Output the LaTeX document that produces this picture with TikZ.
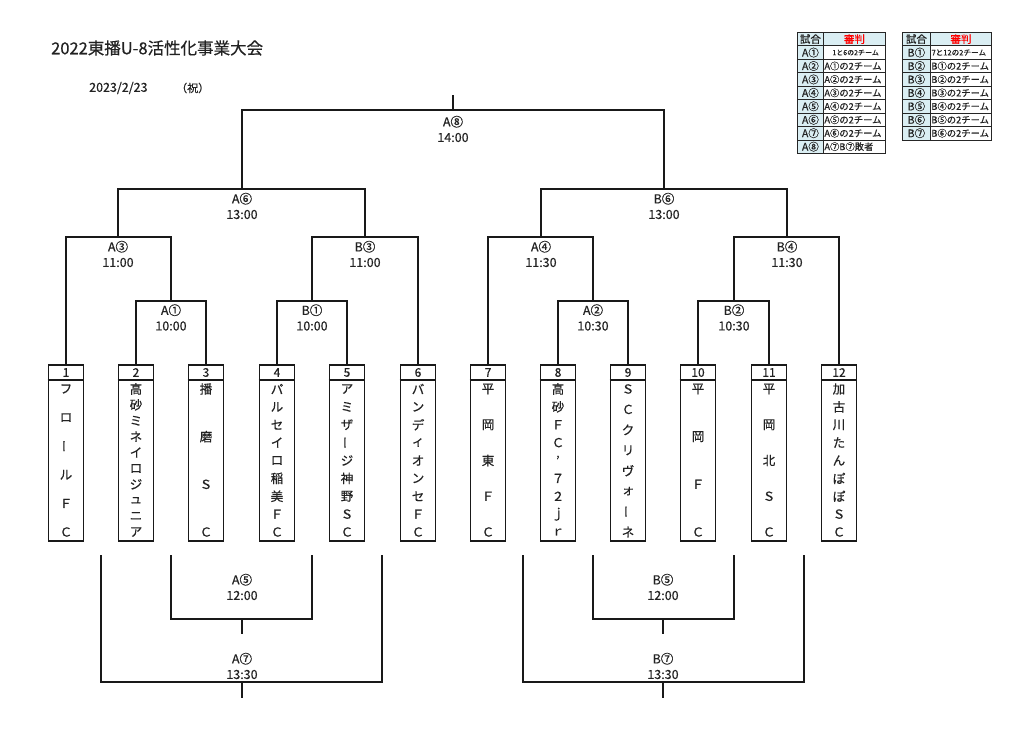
\documentclass[tikz,border=0pt]{standalone}
\usepackage{fontspec}
\setmainfont{Noto Sans CJK JP}[FakeBold=0.5]
\usetikzlibrary{calc}
\definecolor{hdr}{HTML}{DAEEF3}
\definecolor{ink}{HTML}{222222}
\newcommand\teamcol[4]{%
  \node[tbox] (t#1) at (#2,364) {};
  \draw[boxline] ([yshift=-16pt]t#1.north west) -- ([yshift=-16pt]t#1.north east);
  \node[num] (n#1) at (#2,372.5) {#1};
  \foreach \c [count=\k] in {#4} {
    \node[ch] (c#1-\k) at (#2,{389+(\k-1)*143/(#3-1)}) {\c};
  }%
}
\newcommand\vbar{\rotatebox[origin=c]{90}{ー}}
\begin{document}
\begin{tikzpicture}[x=1pt,y=-1pt,
  br/.style={line width=1.6pt,draw=black!90},
  boxline/.style={line width=1.6pt,draw=black!90},
  tbox/.style={draw=black!90,line width=1.6pt,minimum width=35pt,minimum height=176pt,inner sep=0pt,anchor=north},
  ch/.style={font=\fontsize{12.5}{13}\selectfont,inner sep=0pt,text=ink},
  num/.style={font=\fontsize{12}{12}\selectfont,inner sep=0pt,text=ink},
  lbl/.style={font=\fontsize{12.5}{15.5}\selectfont,align=center,inner sep=0pt,text=ink},
  tcl/.style={draw=black!85,line width=0.8pt,fill=hdr,anchor=north west,minimum width=26pt,minimum height=13.44pt,inner sep=0pt,font=\fontsize{10.5}{11}\selectfont,text=ink},
  tcr/.style={draw=black!85,line width=0.8pt,fill=white,anchor=north west,minimum height=13.44pt,inner xsep=1pt,inner ysep=0pt,align=left,font=\fontsize{9.3}{10}\selectfont,text=ink},
]
\useasboundingbox (0,0) rectangle (1024,735);
\fill[white] (0,0) rectangle (1024,735);

% title
\node[anchor=west,inner sep=0pt,font=\fontsize{16.5}{17}\selectfont,text=ink] (title) at (51,48) {2022東播U-8活性化事業大会};
\node[anchor=west,inner sep=0pt,font=\fontsize{12.5}{13}\selectfont,text=ink] (date) at (89,88) {2023/2/23};
\node[anchor=west,inner sep=0pt,font=\fontsize{11}{12}\selectfont,text=ink] (hol) at (176,88) {（祝）};

% teams
\teamcol{1}{66}{6}{フ,ロ,\vbar,ル,Ｆ,Ｃ}
\teamcol{2}{136}{10}{高,砂,ミ,ネ,イ,ロ,ジ,ュ,ニ,ア}
\teamcol{3}{206}{4}{播,磨,Ｓ,Ｃ}
\teamcol{4}{277}{9}{パ,ル,セ,イ,ロ,稲,美,Ｆ,Ｃ}
\teamcol{5}{347}{9}{ア,ミ,ザ,\vbar,ジ,神,野,Ｓ,Ｃ}
\teamcol{6}{418}{9}{バ,ン,デ,ィ,オ,ン,セ,Ｆ,Ｃ}
\teamcol{7}{488}{5}{平,岡,東,Ｆ,Ｃ}
\teamcol{8}{558}{9}{高,砂,Ｆ,Ｃ,’,７,２,ｊ,ｒ}
\teamcol{9}{628}{8}{Ｓ,Ｃ,ク,リ,ヴ,ォ,\vbar,ネ}
\teamcol{10}{698}{4}{平,岡,Ｆ,Ｃ}
\teamcol{11}{769}{5}{平,岡,北,Ｓ,Ｃ}
\teamcol{12}{839}{9}{加,古,川,た,ん,ぽ,ぽ,Ｓ,Ｃ}

% junction coordinates
\coordinate (a1) at (171,301);
\coordinate (b1) at (312,301);
\coordinate (a2) at (593,301);
\coordinate (b2) at (734,301);
\coordinate (a3) at (118,237);
\coordinate (b3) at (365,237);
\coordinate (a4) at (541,237);
\coordinate (b4) at (787,237);
\coordinate (a6) at (242,189);
\coordinate (b6) at (664,189);
\coordinate (a8) at (453,110);
\coordinate (a8t) at (453,95);

% top brackets
\draw[br] (t2.north) |- (a1) -| (t3.north);
\draw[br] (t4.north) |- (b1) -| (t5.north);
\draw[br] (t8.north) |- (a2) -| (t9.north);
\draw[br] (t10.north) |- (b2) -| (t11.north);
\draw[br] (t1.north) |- (a3) -| (a1);
\draw[br] (b1) |- (b3) -| (t6.north);
\draw[br] (t7.north) |- (a4) -| (a2);
\draw[br] (b2) |- (b4) -| (t12.north);
\draw[br] (a3) |- (a6) -| (b3);
\draw[br] (a4) |- (b6) -| (b4);
\draw[br] (a6) |- (a8) -| (b6);
\draw[br] (a8) -- (a8t);

% top labels
\node[lbl] (la1) at (171,317.5) {A①\\10:00};
\node[lbl] (lb1) at (312,317.5) {B①\\10:00};
\node[lbl] (la2) at (593,317.5) {A②\\10:30};
\node[lbl] (lb2) at (734,317.5) {B②\\10:30};
\node[lbl] (la3) at (118,254) {A③\\11:00};
\node[lbl] (lb3) at (365,254) {B③\\11:00};
\node[lbl] (la4) at (541,254) {A④\\11:30};
\node[lbl] (lb4) at (787,254) {B④\\11:30};
\node[lbl] (la6) at (242,206) {A⑥\\13:00};
\node[lbl] (lb6) at (664,206) {B⑥\\13:00};
\node[lbl] (la8) at (453,129) {A⑧\\14:00};

% bottom brackets
\coordinate (a5l) at (171,555); \coordinate (a5r) at (312,555);
\coordinate (a5) at (242,619); \coordinate (a5d) at (242,634);
\coordinate (a7l) at (101,555); \coordinate (a7r) at (382,555);
\coordinate (a7) at (242,682); \coordinate (a7d) at (242,698);
\coordinate (b5l) at (593,555); \coordinate (b5r) at (734,555);
\coordinate (b5) at (663,619); \coordinate (b5d) at (663,634);
\coordinate (b7l) at (523,555); \coordinate (b7r) at (804,555);
\coordinate (b7) at (663,682); \coordinate (b7d) at (663,698);
\draw[br] (a5l) |- (a5) -| (a5r);
\draw[br] (a5) -- (a5d);
\draw[br] (a7l) |- (a7) -| (a7r);
\draw[br] (a7) -- (a7d);
\draw[br] (b5l) |- (b5) -| (b5r);
\draw[br] (b5) -- (b5d);
\draw[br] (b7l) |- (b7) -| (b7r);
\draw[br] (b7) -- (b7d);
\node[lbl] (la5) at (242,587) {A⑤\\12:00};
\node[lbl] (la7) at (242,666) {A⑦\\13:30};
\node[lbl] (lb5) at (663,587) {B⑤\\12:00};
\node[lbl] (lb7) at (663,666) {B⑦\\13:30};

% table A
\node[tcl] (tAl0) at (797,32) {試合};
\node[tcl,minimum width=62pt,text=red] (tAr0) at (823,32) {審判};
\foreach \l/\r [count=\k] in {A①/{\hspace*{8pt}\fontsize{7}{7}\selectfont 1と6の2チーム},A②/A①の2チーム,A③/A②の2チーム,A④/A③の2チーム,A⑤/A④の2チーム,A⑥/A⑤の2チーム,A⑦/A⑥の2チーム,A⑧/A⑦B⑦敗者}{
  \node[tcl] (tAl\k) at (797,{32+\k*13.44}) {\l};
  \node[tcr,text width=60pt] (tAr\k) at (823,{32+\k*13.44}) {\r};
}
% table B
\node[tcl,minimum width=28pt] (tBl0) at (902,32) {試合};
\node[tcl,minimum width=61pt,text=red] (tBr0) at (930,32) {審判};
\foreach \l/\r [count=\k] in {B①/{\fontsize{7.6}{8}\selectfont 7と12の2チーム},B②/B①の2チーム,B③/B②の2チーム,B④/B③の2チーム,B⑤/B④の2チーム,B⑥/B⑤の2チーム,B⑦/B⑥の2チーム}{
  \node[tcl,minimum width=28pt] (tBl\k) at (902,{32+\k*13.44}) {\l};
  \node[tcr,text width=59pt] (tBr\k) at (930,{32+\k*13.44}) {\r};
}
\end{tikzpicture}
\end{document}
